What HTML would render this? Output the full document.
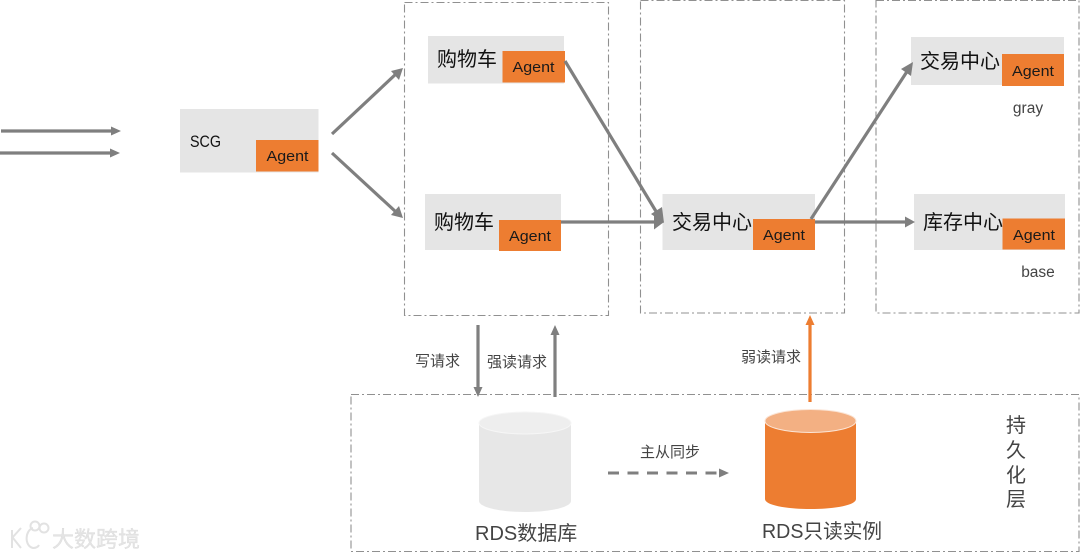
<!DOCTYPE html>
<html>
<head>
<meta charset="utf-8">
<style>
html,body{margin:0;padding:0;background:#fff;width:1080px;height:558px;overflow:hidden}
svg{display:block;font-family:"Liberation Sans","Noto Sans CJK SC",sans-serif;filter:blur(0.3px)}
.box{fill:#e5e5e5}
.ag{fill:#ed7d31}
.agt{font-size:15px;fill:#1a1a1a;text-anchor:middle;font-family:"Liberation Sans",sans-serif}
.cn{font-size:20px;fill:#111}
.dash{fill:none;stroke:#909090;stroke-width:1.1;stroke-dasharray:8 3 2 3}
.l{stroke:#7f7f7f;stroke-width:3.2;fill:none}
.a{fill:#7f7f7f}
.lab{font-size:15px;fill:#444}
.big{font-size:20px;fill:#444}
</style>
</head>
<body>
<svg width="1080" height="558" viewBox="0 0 1080 558" xmlns="http://www.w3.org/2000/svg">
<rect width="1080" height="558" fill="#fff"/>

<!-- dashed containers -->
<rect class="dash" x="404.5" y="2.5" width="204" height="313"/>
<rect class="dash" x="640.5" y="0.5" width="204" height="312.5"/>
<rect class="dash" x="876" y="0.5" width="203" height="312.5"/>
<rect class="dash" x="351" y="394.5" width="728" height="157"/>

<!-- left inputs -->
<line class="l" x1="1" y1="131" x2="114" y2="131"/><polygon class="a" points="121,131 111,126.500 111,135.500"/>
<line class="l" x1="0" y1="153" x2="113" y2="153"/><polygon class="a" points="120,153 110,148.500 110,157.500"/>

<!-- SCG -->
<rect class="box" x="180" y="109" width="138.5" height="63.5"/>
<rect class="ag" x="256" y="140" width="62.5" height="31.5"/>
<text x="190" y="147" font-size="16.5" fill="#111" font-family="Liberation Sans" textLength="31" lengthAdjust="spacingAndGlyphs">SCG</text>
<text class="agt" x="287.5" y="161" textLength="42" lengthAdjust="spacingAndGlyphs">Agent</text>

<!-- SCG arrows -->
<line class="l" x1="332" y1="134" x2="397" y2="73"/><polygon class="a" points="403,68 399,80 391,71"/>
<line class="l" x1="332" y1="153" x2="396" y2="212"/><polygon class="a" points="403,218 391,215 399,206"/>

<!-- cart 1 -->
<rect class="box" x="428" y="36" width="136" height="47.5"/>
<rect class="ag" x="502.5" y="51" width="62.5" height="31.5"/>
<text class="cn" x="437" y="66">购物车</text>
<text class="agt" x="533.5" y="72" textLength="42" lengthAdjust="spacingAndGlyphs">Agent</text>

<!-- cart 2 -->
<rect class="box" x="425" y="194" width="136" height="56"/>
<rect class="ag" x="499" y="220" width="62" height="31"/>
<text class="cn" x="434" y="229">购物车</text>
<text class="agt" x="530" y="241" textLength="42" lengthAdjust="spacingAndGlyphs">Agent</text>

<!-- trade middle -->
<rect class="box" x="662.5" y="194" width="152.5" height="56"/>
<rect class="ag" x="753" y="219" width="62" height="31"/>
<text class="cn" x="672" y="229">交易中心</text>
<text class="agt" x="784" y="240" textLength="42" lengthAdjust="spacingAndGlyphs">Agent</text>

<!-- trade gray -->
<rect class="box" x="911" y="37" width="153" height="48"/>
<rect class="ag" x="1002" y="54" width="62" height="32"/>
<text class="cn" x="920" y="68">交易中心</text>
<text class="agt" x="1033" y="76" textLength="42" lengthAdjust="spacingAndGlyphs">Agent</text>
<text x="1028" y="113" font-size="15.500" fill="#444" text-anchor="middle" font-family="Liberation Sans">gray</text>

<!-- stock base -->
<rect class="box" x="914" y="194" width="151" height="56"/>
<rect class="ag" x="1002.5" y="218.5" width="62.5" height="31"/>
<text class="cn" x="923" y="229" textLength="80" lengthAdjust="spacing">库存中心</text>
<text class="agt" x="1034" y="240" textLength="42" lengthAdjust="spacingAndGlyphs">Agent</text>
<text x="1038" y="277" font-size="15.500" fill="#444" text-anchor="middle" font-family="Liberation Sans">base</text>

<!-- cart -> trade arrows -->
<line class="l" x1="565" y1="61" x2="657" y2="213"/><polygon class="a" points="664,223 651,214 662,207"/>
<line class="l" x1="561" y1="222" x2="656" y2="222"/><polygon class="a" points="664,222 654,214.500 654,229.500"/>

<!-- trade -> right arrows -->
<line class="l" x1="811" y1="219" x2="908" y2="70"/><polygon class="a" points="913,62 911,76 901,69"/>
<line class="l" x1="815" y1="222" x2="907" y2="222"/><polygon class="a" points="915,222 905,216.500 905,227.500"/>

<!-- vertical arrows -->
<line class="l" x1="478" y1="325" x2="478" y2="388"/><polygon class="a" points="478,397 473.500,387 482.500,387"/>
<line class="l" x1="555" y1="397" x2="555" y2="333"/><polygon class="a" points="555,325 550.500,335 559.500,335"/>
<text class="lab" x="415" y="366">写请求</text>
<text class="lab" x="487" y="367">强读请求</text>

<line x1="810" y1="402" x2="810" y2="323" stroke="#ed7d31" stroke-width="3.200"/><polygon fill="#ed7d31" points="810,315 805.500,325 814.500,325"/>
<text class="lab" x="741" y="362">弱读请求</text>

<!-- sync arrow -->
<line x1="608" y1="473" x2="721" y2="473" stroke="#7f7f7f" stroke-width="3" stroke-dasharray="11 8.500"/>
<polygon class="a" points="729,473 719,468.500 719,477.500"/>
<text class="lab" x="640" y="457">主从同步</text>

<!-- gray cylinder -->
<path d="M479 423 V501 C479 507 499 512 525 512 C551 512 571 507 571 501 V423 Z" fill="#e7e7e7"/>
<ellipse cx="525" cy="423" rx="46" ry="11" fill="#eeeeee" stroke="#f6f6f6" stroke-width="1"/>
<text class="big" x="475" y="540">RDS数据库</text>

<!-- orange cylinder -->
<path d="M765 421 V499 C765 505 785 509 810.500 509 C836 509 856 505 856 499 V421 Z" fill="#ed7d31"/>
<ellipse cx="810.500" cy="421" rx="45.500" ry="11.500" fill="#f3b083" stroke="#fbe5d6" stroke-width="1"/>
<text class="big" x="762" y="538" textLength="120" lengthAdjust="spacingAndGlyphs">RDS只读实例</text>

<!-- persistence layer -->
<g font-size="20" fill="#444" text-anchor="middle">
<text x="1016" y="432">持</text>
<text x="1016" y="457">久</text>
<text x="1016" y="482">化</text>
<text x="1016" y="506">层</text>
</g>

<!-- watermark -->
<g fill="none" stroke="#e2e2e2" stroke-width="2">
<path d="M12 530 L12 548 M12 538 L21 528 M13 538 L21 548"/>
<path d="M33 528 C25 530 24 546 33 548 C36 548 38 547 39 545"/>
<circle cx="35" cy="526" r="4.500"/>
<circle cx="44" cy="528" r="4.500"/>
</g>
<text x="52" y="547" font-size="22" fill="#e4e4e4" stroke="#d8d8d8" stroke-width="0.3">大数跨境</text>
</svg>
</body>
</html>
